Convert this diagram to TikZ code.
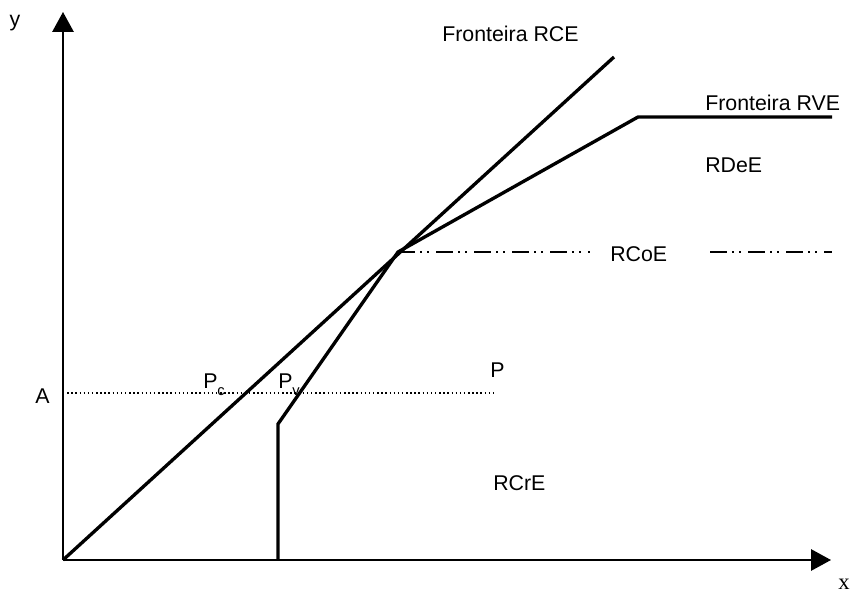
\documentclass[tikz,border=0pt]{standalone}
\usepackage{fontspec}
\setmainfont{Liberation Sans}
\newfontfamily\serifx{Liberation Serif}
\usetikzlibrary{arrows.meta}
\tikzset{
  axis/.style={line width=1.5pt, -{Triangle[length=15pt, width=16pt]}},
  frontier/.style={line width=2.5pt, line join=miter},
  levelline/.style={line width=1.1pt, dotted},
  coeline/.style={line width=1.5pt,
    dash pattern=on 12.75pt off 3.75pt on 1.5pt off 3.75pt on 1.5pt off 5.25pt},
  lbl/.style={font=\fontsize{16}{19}\selectfont, inner sep=0pt, anchor=base west},
}
\newcommand{\subidx}[1]{\raisebox{-0.7ex}{\fontsize{11}{13}\selectfont #1}}

\begin{document}
\begin{tikzpicture}[x=0.75pt, y=-0.75pt]
  \useasboundingbox (0,0) rectangle (850,592);
  % axes
  \coordinate (O) at (63,560);
  \coordinate (ytip) at (63,12);
  \coordinate (xtip) at (831,560);
  \draw[axis] (O) -- (ytip);
  \draw[axis] (O) -- (xtip);
  \node[font=\fontsize{16}{19}\selectfont, inner sep=0pt] (ylbl) at (15,23) {y};
  \node[lbl, font=\serifx\fontsize{17}{19}\selectfont] (xlbl) at (838,589) {x};

  % frontiers
  \coordinate (rceend) at (614,57);
  \coordinate (vfoot) at (278,560);
  \coordinate (vkink) at (278,424);
  \coordinate (X) at (398,252);
  \coordinate (vbend) at (638,117);
  \coordinate (vend) at (832,117);
  \draw[frontier] (O) -- (rceend);
  \draw[frontier] (vfoot) -- (vkink) -- (X) -- (vbend) -- (vend);

  % level A
  \coordinate (Aend) at (495,393);
  \draw[levelline] (O |- Aend) -- (Aend);
  \node[lbl] (Albl) at (35,403) {A};
  \node[lbl] (Pc) at (203,388) {P\subidx{c}};
  \node[lbl] (Pv) at (278,388) {P\subidx{v}};
  \node[lbl] (P) at (490,377) {P};

  % RCoE
  \coordinate (coeA) at (590,252);
  \coordinate (coeB) at (710,252);
  \coordinate (coeC) at (832,252);
  \draw[coeline] (X) -- (coeA);
  \draw[coeline] (coeB) -- (coeC);
  \node[lbl] (rcoe) at (610,261) {RCoE};

  % regions and frontier names
  \node[lbl] (rcelbl) at (442,42) {Fronteira RCE};
  \node[lbl] (rvelbl) at (705,110) {Fronteira RVE};
  \node[lbl] (rdee) at (705,172) {RDeE};
  \node[lbl] (rcre) at (493,490) {RCrE};
\end{tikzpicture}
\end{document}
